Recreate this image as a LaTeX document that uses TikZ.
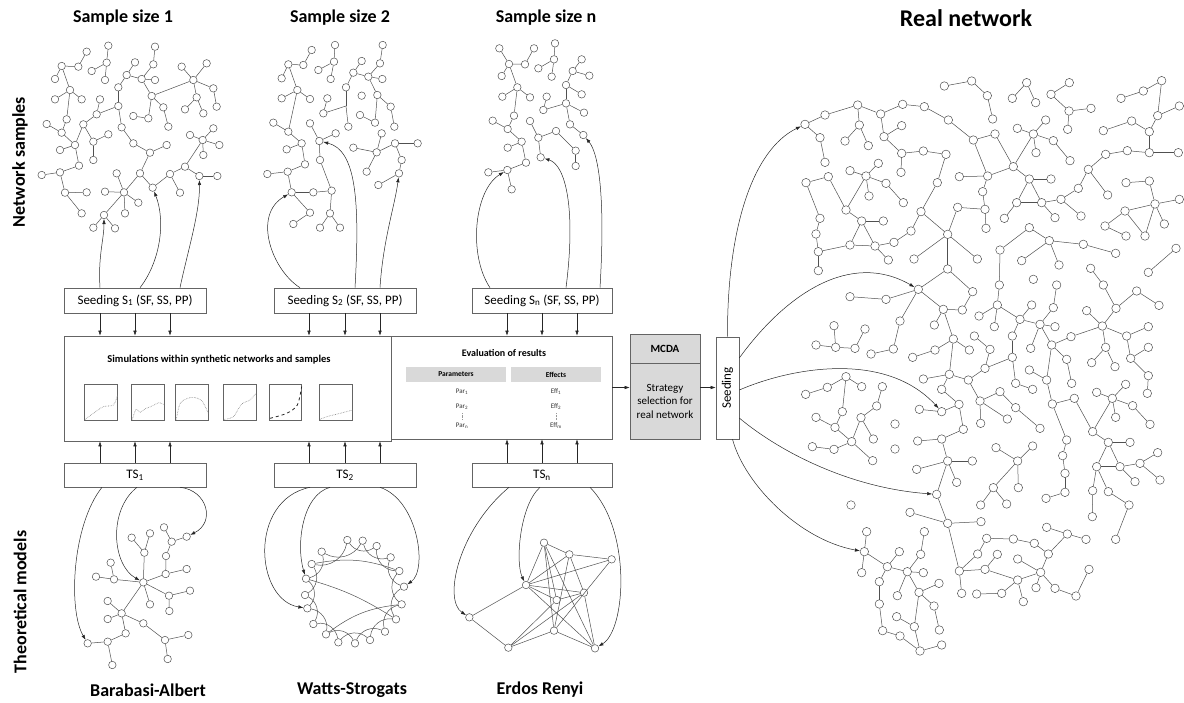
\documentclass[tikz,border=0pt]{standalone}
\usepackage{fontspec}
\setmainfont{Carlito}
\usetikzlibrary{arrows.meta}
\definecolor{lc}{RGB}{80,80,80}
\definecolor{bc}{RGB}{100,100,100}
\definecolor{hg}{RGB}{217,217,217}
\begin{document}
\begin{tikzpicture}[x=1pt,y=-1pt,
  nd/.style={circle,draw=lc,fill=white,inner sep=0pt,minimum size=7.5pt,line width=0.5pt},
  rn/.style={nd,minimum size=8.5pt},
  ed/.style={draw=lc,line width=0.5pt},
  bx/.style={draw=bc,line width=0.6pt,fill=white,inner sep=0pt,font=\fontsize{13}{15}\selectfont},
  arr/.style={draw=black!85,line width=0.5pt,-{Latex[length=5pt,width=3.5pt]}},
  ttl/.style={font=\fontsize{18}{20}\selectfont\bfseries},
  cv/.style={draw=black!50,densely dotted,line width=0.6pt},
  sm/.style={font=\fontsize{7}{8}\selectfont,text=black!80},
]
\useasboundingbox (0,0) rectangle (1184,702);

% ---------- titles ----------
\node[ttl] (h1) at (123,18) {Sample size 1};
\node[ttl] (h2) at (340,18) {Sample size 2};
\node[ttl] (hn) at (546,18) {Sample size n};
\node[font=\fontsize{24}{26}\selectfont\bfseries] (hr) at (966,18) {Real network};
\node[ttl,rotate=90] (vl1) at (20,162) {Network samples};
\node[ttl,rotate=90] (vl2) at (20,602) {Theoretical models};
\node[ttl] (b1) at (148,690) {Barabasi-Albert};
\node[ttl] (b2) at (352,690) {Watts-Strogats};
\node[ttl] (b3) at (540,690) {Erdos Renyi};

% ---------- boxes ----------
\node[bx,minimum width=142pt,minimum height=25pt] (ss1) at (135,300.5) {Seeding S\textsubscript{1} (SF, SS, PP)};
\node[bx,minimum width=142pt,minimum height=25pt] (ss2) at (345,300.5) {Seeding S\textsubscript{2} (SF, SS, PP)};
\node[bx,minimum width=140pt,minimum height=25pt] (ssn) at (542,300.5) {Seeding S\textsubscript{n} (SF, SS, PP)};
\node[bx,minimum width=142pt,minimum height=24pt] (ts1) at (135,475) {TS\textsubscript{1}};
\node[bx,minimum width=142pt,minimum height=24pt] (ts2) at (345,475) {TS\textsubscript{2}};
\node[bx,minimum width=140pt,minimum height=24pt] (tsn) at (542,475) {TS\textsubscript{n}};
\node[bx,minimum width=221pt,minimum height=103pt] (eval) at (501.5,387.5) {};
\node[bx,minimum width=327pt,minimum height=105pt] (sim) at (227.5,388.5) {};
\node[font=\fontsize{10.5}{12}\selectfont\bfseries] (simt) at (219,360) {Simulations within synthetic networks and samples};
\node[font=\fontsize{10}{12}\selectfont\bfseries] (evt) at (504,353) {Evaluation of results};
\node[fill=hg,minimum width=100pt,minimum height=15pt,inner sep=0pt,font=\fontsize{7.5}{9}\selectfont\bfseries] (parh) at (456,374.5) {Parameters};
\node[fill=hg,minimum width=90pt,minimum height=15pt,inner sep=0pt,font=\fontsize{7.5}{9}\selectfont\bfseries] (effh) at (556,374.5) {Effects};
\node[sm] (p1) at (462,392) {Par\textsubscript{1}};
\node[sm] (p2) at (462,407) {Par\textsubscript{2}};
\node[sm] (pn) at (462,426) {Par\textsubscript{n}};
\node[sm] (e1) at (556,392) {Eff\textsubscript{1}};
\node[sm] (e2) at (556,407) {Eff\textsubscript{2}};
\node[sm] (en) at (556,426) {Eff\textsubscript{m}};
\draw[black!40,densely dotted] (p2.south) -- (pn.north);
\draw[black!40,densely dotted] (e2.south) -- (en.north);

\node[bx,fill=hg,minimum width=70pt,minimum height=29pt,font=\fontsize{11}{13}\selectfont\bfseries] (mcdah) at (665,348.5) {MCDA};
\node[bx,fill=hg,minimum width=70pt,minimum height=76pt,align=center,font=\fontsize{11}{13.5}\selectfont] (mcdab) at (665,401) {Strategy\\selection for\\real network};
\node[bx,minimum width=23pt,minimum height=102pt] (seed) at (727.5,388) {};
\node[rotate=90,font=\fontsize{13}{15}\selectfont] (seedt) at (seed.center) {Seeding};

% ---------- charts ----------
\begin{scope}[shift={(60pt,-360pt)},x=0.33333pt,y=-0.33333pt]
\foreach \a/\b in {72/173,215/313,347/445,490/588,628/725,778/878}
  \draw[bc,line width=0.6pt] (\a,72) rectangle (\b,180);
\draw[cv] plot[smooth] coordinates {(75,178) (100,160) (130,140) (160,135) (173,105)};
\draw[cv] plot[smooth] coordinates {(217,178) (228,148) (240,157) (256,146) (272,140) (298,128) (313,135)};
\draw[cv] plot[smooth] coordinates {(349,178) (362,128) (395,112) (425,122) (445,160)};
\draw[cv] plot[smooth] coordinates {(492,178) (520,170) (545,132) (570,120) (588,100)};
\draw[black!85,dashed,line width=0.8pt] plot[smooth] coordinates {(630,175) (680,160) (712,135) (725,80)};
\draw[cv] plot[smooth] coordinates {(780,178) (800,170) (840,160) (878,150)};
\end{scope}

% ---------- straight arrows ----------
\foreach \s/\t in {-35/-127.5,0/-92.5,35/-57.5} {
  \draw[arr] ([xshift=\s pt]ss1.south) -- ([xshift=\t pt]sim.north);
  \draw[arr] ([xshift=\s pt]ts1.north) -- ([xshift=\t pt]sim.south);}
\foreach \s/\t in {-36/81.5,0/117.5,35/152.5} {
  \draw[arr] ([xshift=\s pt]ss2.south) -- ([xshift=\t pt]sim.north);
  \draw[arr] ([xshift=\s pt]ts2.north) -- ([xshift=\t pt]sim.south);}
\foreach \s/\t in {-35/5.5,0/40.5,35/75.5} {
  \draw[arr] ([xshift=\s pt]ssn.south) -- ([xshift=\t pt]eval.north);
  \draw[arr] ([xshift=\s pt]tsn.north) -- ([xshift=\t pt]eval.south);}
\draw[arr] (eval.east) -- (eval.east -| mcdab.west);
\draw[arr] (eval.east -| mcdab.east) -- (eval.east -| seed.west);

% ---------- sample 1 ----------
\begin{scope}[x=0.33333pt,y=-0.33333pt]
\foreach \n/\x/\y in {1/325/137,2/260/155,3/465/140,4/185/198,5/235/200,6/320/188,7/275/213,8/460/193,9/405/187,10/545/200,11/620/190,12/165/237,13/315/240,14/380/225,15/425/237,16/465/240,17/580/240,18/355/262,19/210/270,20/640/265,21/455/288,23/165/298,24/245/298,25/590/292,26/300/298,27/355/318,28/650/320,29/490/322,30/555/328,31/290/343,32/400/348,33/445/355,34/610/340,35/200/358,36/140/372,37/250/373,38/505/380,39/365/382,40/185/398,41/325/403,42/280/425,43/400/430,44/570/405,45/608/420,46/640/385,47/225/435,48/500/435,49/658/435,50/180/450,51/450/458,52/610/465,53/280/480,54/237/497,55/555/500,56/125/525,57/180/517,58/420/520,59/510/522,60/598/528,61/652/528,62/350/520,63/458/563,64/195/578,65/260/577,66/315/575,67/372/577,68/540/578,69/415/608,70/375/640,71/245/640,72/312/645,73/280/683,74/345/685}
  \node[nd] (c\n) at (\x,\y) {};
\end{scope}
\foreach \a/\b in {1/6,6/7,6/13,2/5,5/4,4/12,4/19,19/23,19/24,19/35,35/40,40/36,40/47,47/37,37/31,31/26,31/27,37/42,42/41,42/53,47/50,47/54,54/57,57/56,57/64,64/65,64/71,27/18,18/14,14/9,14/15,15/8,8/3,15/16,15/21,21/17,21/33,33/32,21/29,29/38,17/10,17/11,17/20,17/25,25/30,25/34,20/28,27/39,39/43,43/51,51/48,51/58,58/63,63/59,59/68,59/55,55/60,60/61,55/45,45/44,45/46,45/49,45/52,58/67,67/62,67/66,67/69,67/70,67/72,72/73,72/74}
  \draw[ed] (c\a) -- (c\b);

% ---------- sample 2 ----------
\begin{scope}[shift={(240pt,0pt)},x=0.33333pt,y=-0.33333pt]
\foreach \n/\x/\y in {1/285/135,2/428/135,3/215/150,4/282/185,5/420/190,6/145/193,7/190/195,8/235/210,9/365/183,10/340/218,11/385/230,12/272/237,13/427/237,14/125/235,15/172/270,16/318/262,17/125/295,18/210/297,19/262/295,20/365/287,21/412/285,22/250/340,23/452/320,25/360/345,26/405/368,27/325/380,28/463/380,29/100/368,30/145/395,31/210/370,32/287/400,33/238/423,34/425/400,35/185/430,36/340/443,37/410/457,38/465/430,39/533/430,40/140/448,41/240/480,42/485/480,43/195/493,44/380/515,45/82/522,46/143/515,47/477/520,48/155/577,49/220/577,50/275/572,51/415/555,52/210/638,53/270/640,54/160/672,55/240/683,56/300/683}
  \node[nd] (a\n) at (\x,\y) {};
\coordinate (a24) at (318,318);
\end{scope}
\foreach \a/\b in {1/4,4/8,4/12,3/7,7/6,6/14,6/15,15/17,15/18,15/30,30/29,30/35,35/40,35/43,43/46,46/45,46/48,48/49,49/50,50/41,41/33,33/31,33/32,50/53,53/55,53/56,48/52,52/54,2/5,5/11,11/10,10/9,10/16,11/13,11/21,21/23,23/28,21/26,26/25,37/36,37/34,37/44,37/38,38/39,38/42,42/47,47/51,16/24,24/22,22/19,24/27}
  \draw[ed] (a\a) -- (a\b);

% ---------- sample n ----------
\begin{scope}[shift={(430pt,0pt)},x=0.33333pt,y=-0.33333pt]
\foreach \n/\x/\y in {1/208/145,2/312/145,3/375/130,4/237/192,5/285/193,6/325/205,7/372/178,8/455/178,9/215/228,10/365/230,11/428/213,12/478/227,13/262/262,14/408/255,15/217/290,16/300/292,17/350/290,18/455/283,19/340/330,20/408/310,21/462/338,22/252/347,23/188/362,24/300/363,25/233/387,26/420/373,27/378/393,28/325/413,29/460/405,30/275/425,31/233/443,32/437/452,33/288/488,34/332/472,35/437/498,36/175/517,37/232/510,38/245/568}
  \node[nd] (b\n) at (\x,\y) {};
\end{scope}
\foreach \a/\b in {1/4,4/5,5/2,4/9,4/13,13/15,13/16,13/22,22/25,25/23,25/30,30/31,30/33,33/37,37/36,37/38,3/7,7/6,7/10,8/11,11/12,11/14,14/18,14/20,20/19,19/17,20/21,20/26,26/29,24/28,28/27,28/34,27/32,32/35}
  \draw[ed] (b\a) -- (b\b);

% ---------- Barabasi-Albert ----------
\begin{scope}[shift={(40pt,-470pt)},x=0.33333pt,y=-0.33333pt]
\foreach \n/\x/\y in {1/310/337,2/245/430,3/372/172,4/440/200,5/395/215,6/378/258,7/330/190,8/275/203,9/313/248,10/212/278,11/168/320,12/222/328,13/377/312,14/440/297,15/387/377,16/450/362,17/388/423,18/330/403,19/203/393,20/203/447,21/310/460,22/375/510,23/445/495,24/383/567,25/257/490,26/203/515,27/143/520,28/217/585}
  \node[nd] (ba\n) at (\x,\y) {};
\end{scope}
\foreach \a/\b in {1/9,9/7,9/8,1/12,12/11,12/10,1/13,13/14,13/6,6/5,5/3,5/4,1/15,15/16,15/17,1/18,1/2,2/19,2/20,2/21,21/22,22/23,22/24,2/25,25/26,26/27,26/28}
  \draw[ed] (ba\a) -- (ba\b);

% ---------- Watts-Strogatz ----------
\begin{scope}[shift={(250pt,-470pt)},x=0.33333pt,y=-0.33333pt]
\foreach \n/\x/\y in {1/292/210,2/338/212,3/380/228,4/422/262,5/448/303,6/462/350,7/455/403,8/438/448,9/405/485,10/360/510,11/315/520,12/265/517,13/228/493,14/190/462,15/172/415,16/165/375,17/168/326,18/185/282,19/215/245}
  \node[nd] (ws\n) at (\x,\y) {};
\end{scope}
\foreach \i in {1,...,19} {
  \pgfmathtruncatemacro{\j}{mod(\i+1,19)+1}
  \draw[ed] (ws\i) to[bend right=45] (ws\j);}
\draw[ed] (ws18) to[bend left=15] (ws5);
\draw[ed] (ws17) to[bend left=8] (ws8);
\draw[ed] (ws13) to[bend left=15] (ws7);

% ---------- Erdos Renyi ----------
\begin{scope}[shift={(430pt,-470pt)},x=0.33333pt,y=-0.33333pt]
\foreach \n/\x/\y in {A/342/218,B/418/253,C/545/268,D/288/345,E/380/390,F/462/368,G/118/442,H/372/482,I/235/533,J/495/535}
  \node[nd] (er\n) at (\x,\y) {};
\end{scope}
\foreach \a/\b in {A/B,A/D,A/E,A/H,A/J,B/C,B/D,B/F,B/H,C/D,C/H,D/F,D/E,D/J,D/G,E/F,E/I,F/J,F/I,G/I,I/H,H/J}
  \draw[ed] (er\a) -- (er\b);

% ---------- real network ----------
\begin{scope}[shift={(760pt,0pt)},x=0.33333pt,y=-0.33333pt]
\foreach \n/\x/\y in {1/553/258,2/635/243,3/682/287,4/698/357,5/800/248,6/757/295,7/827/308,8/928/248,9/873/283,10/927/333,11/993/325,12/923/388,13/1205/242,14/1150/273,15/1083/295,16/1258/318,17/1193/347,18/1115/363,19/1030/392,20/1168/395,21/1168/458,22/1255/458,23/1102/452,24/1037/463,25/985/508,26/1043/585,27/955/565,28/903/598,29/963/648,30/845/608,31/885/653,32/770/608,33/733/655,34/808/537,35/873/537,36/760/500,37/683/528,38/598/530,39/705/402,40/640/420,41/565/360,42/493/320,43/428/313,44/362/342,45/293/315,46/195/345,47/135/373,48/180/413,49/195/487,50/298/375,51/255/423,52/325/437,53/425/377,54/372/410,55/425/460,56/423/517,57/490/453,58/558/463,59/532/548,60/483/635,61/453/693,62/402/727,63/345/738,64/270/735,65/305/663,66/370/663,67/258/630,68/318/528,69/270/512,70/355/490,71/378/550,72/430/608,73/327/588,74/205/530,75/138/548,76/180/655,77/168/702,78/668/575,79/675/628,80/593/622,81/678/685,82/563/703,83/820/402,84/772/385,85/857/360,86/880/422,87/930/482,88/828/458,89/1098/548,90/1168/543,91/1185/612,92/1258/598,93/1095/633,94/1035/678,95/1098/708,96/1155/708,97/1213/672,98/808/683,99/868/722,100/970/733}
  \node[rn] (r\n) at (\x,\y) {};
\end{scope}
\begin{scope}[shift={(760pt,-230pt)},x=0.33333pt,y=-0.33333pt]
\foreach \n/\x/\y in {1/175/65,2/175/122,3/385/90,4/462/87,5/652/87,6/720/60,7/785/92,8/897/105,9/1067/70,10/1248/55,11/1165/127,12/563/117,13/475/178,14/270/200,15/378/208,16/638/185,17/550/238,18/607/240,19/523/285,20/420/273,21/718/165,22/820/148,23/890/165,24/992/115,25/1030/165,26/1130/183,27/1197/226,28/1068/235,29/980/242,30/712/225,31/657/258,32/703/290,33/815/225,34/880/233,35/780/268,36/840/283,37/885/290,38/1027/288,39/1165/290,40/933/320,41/1100/318,42/222/287,43/315/297,44/168/345,45/227/352,46/285/355,47/333/372,48/400/357,49/580/327,50/458/382,51/525/360,52/628/360,53/643/318,54/690/358,55/757/318,56/812/355,57/875/345,58/757/382,59/1165/352,60/1037/352,61/995/398,62/1065/410,63/1112/385,64/920/388,65/675/415,66/568/433,67/490/447,68/545/478,69/625/450,70/808/420,71/860/450,72/935/460,73/767/460,74/818/478,75/1165/437,76/1162/490,77/1097/463,78/1010/487,79/1057/505,80/1118/527,81/1067/562,82/1170/583,83/258/440,84/202/472,85/137/493,86/305/470,87/367/470,88/350/528,89/247/545,90/303/563,91/168/562,92/225/592,93/275/635,94/405/582,95/340/627,96/157/650,97/222/658,98/405/657,99/338/692,100/478/538,101/545/545,102/597/523,103/720/485,104/660/513,105/767/533,106/662/580,107/742/567,108/840/595,109/877/522,110/943/505,111/998/605,112/1045/637,113/1110/637,114/1193/668,115/1140/700,116/920/630,117/908/677,118/610/598,119/545/627,120/473/633,121/563/693,122/637/693,123/708/653,124/773/693,125/818/648,126/1010/710,127/1080/710}
  \node[rn] (s\n) at (\x,\y) {};
\end{scope}
\begin{scope}[shift={(760pt,-450pt)},x=0.33333pt,y=-0.33333pt]
\foreach \n/\x/\y in {1/470/58,2/590/97,3/530/133,4/450/187,5/563/220,6/663/215,7/700/113,8/775/113,9/662/165,10/740/162,11/915/70,12/915/127,13/858/145,14/998/122,15/1045/125,16/1107/165,17/997/200,18/1067/268,19/1125/95,20/1200/90,21/273/165,22/320/245,23/313/305,24/305/368,25/418/305,26/382/350,27/493/245,28/482/313,29/442/365,30/490/368,31/358/395,32/412/437,33/477/427,34/537/400,35/358/462,36/522/468,37/410/500,38/463/530,39/538/540,40/368/542,41/420/558,42/480/603,43/545/585,44/598/363,45/605/430,46/653/312,47/675/358,48/712/313,49/680/265,50/760/267,51/823/280,52/865/312,53/860/232,54/922/252,55/978/268,57/842/367,58/773/327,59/773/390,60/828/413,61/790/455,62/725/430,63/650/432,64/885/415,65/948/438,66/987/358}
  \node[rn] (t\n) at (\x,\y) {};
\end{scope}
\foreach \a/\b in {1/2,2/3,3/4,5/6,5/7,8/9,9/10,10/11,10/12,13/14,14/15,13/17,17/16,17/20,20/18,18/19,20/21,21/22,21/23,23/24,24/25,25/26,25/27,27/28,28/29,28/30,30/31,30/32,32/33,34/30,34/32,34/35,36/34,36/37,36/39,36/83,39/40,40/37,40/41,41/42,42/43,43/44,44/45,45/46,46/47,47/48,48/49,45/50,50/51,50/52,44/54,54/53,54/55,55/56,55/57,57/58,58/59,59/60,60/61,61/62,62/63,60/82,37/38,37/78,78/79,79/80,79/81,80/82,83/84,83/85,83/86,86/87,83/88,68/69,68/70,68/71,71/72,68/73,68/67,67/74,74/75,75/76,76/77,67/65,65/66,65/64,65/63,64/63,89/90,90/91,91/92,91/93,93/94,94/95,93/96,91/96,91/97,98/99,99/100}
  \draw[ed] (r\a) -- (r\b);
\foreach \a/\b in {1/2,12/13,12/16,16/18,18/17,13/17,17/19,17/49,14/15,15/13,13/20,20/48,48/47,49/51,51/50,49/52,49/66,66/67,66/68,66/69,68/102,102/101,101/100,102/118,118/119,119/120,119/121,121/122,69/65,69/104,104/106,104/107,104/103,103/105,105/108,65/54,54/53,65/58,58/55,55/35,58/73,73/74,70/71,6/21,21/30,30/31,30/32,30/35,35/33,35/36,36/34,34/23,36/37,36/56,36/57,57/40,57/64,64/72,57/71,71/109,109/110,109/116,116/117,110/111,111/112,112/113,112/126,112/127,126/127,127/115,115/114,79/78,79/77,79/80,79/81,79/111,80/82,40/38,38/28,28/25,25/24,28/26,26/27,38/29,38/41,41/39,41/63,63/59,63/75,75/76,38/60,60/61,60/62,10/11,42/45,45/44,45/46,46/43,83/84,84/85,83/86,83/89,89/92,92/91,92/93,93/90,90/88,88/87,90/95,93/97,97/96,93/99,123/124,124/125}
  \draw[ed] (s\a) -- (s\b);
\foreach \a/\b in {3/5,5/4,5/6,5/44,44/45,44/46,44/47,46/49,49/50,50/51,51/52,52/54,54/53,54/55,52/57,57/58,57/59,57/60,57/64,64/65,65/66,47/48,47/59,59/61,59/62,62/63,7/9,7/10,11/12,12/13,14/17,15/16,16/18,22/23,23/24,23/26,26/25,26/29,29/28,28/27,29/30,29/32,29/33,33/34,33/36,36/39,33/38,38/37,38/42,42/41,41/40,40/35,35/31,31/26,42/43}
  \draw[ed] (t\a) -- (t\b);
\foreach \a/\b in {r77/s1,s1/r64,r63/s3,r82/s4,r82/s12,r82/s5,r98/s6,r99/s7,r99/s8,r100/s9,s121/t1,s121/t2,s121/t3,s124/t8,s124/t7,s117/t11,s126/t14,s126/t15,s127/t19,s115/t20}
  \draw[ed] (\a) -- (\b);

% ---------- curved arrows: seeding to samples ----------
\draw[arr] ([xshift=-35pt]ss1.north) .. controls (98,255) and (104,240) .. (c72);
\draw[arr] ([xshift=5pt]ss1.north) .. controls (160,262) and (166,222) .. (c63);
\draw[arr] ([xshift=45pt]ss1.north) .. controls (188,250) and (200,212) .. (c60);
\draw[arr] ([xshift=-45pt]ss2.north) .. controls (272,270) and (252,215) .. (a48);
\draw[arr] ([xshift=10pt]ss2.north) .. controls (360,200) and (356,150) .. (a33);
\draw[arr] ([xshift=35pt]ss2.north) .. controls (383,240) and (395,205) .. (a47);
\draw[arr] ([xshift=-52pt]ssn.north) .. controls (468,255) and (474,190) .. (b37);
\draw[arr] ([xshift=24pt]ssn.north) .. controls (576,210) and (566,165) .. (b34);
\draw[arr] ([xshift=58pt]ssn.north) .. controls (605,205) and (600,155) .. (b29);

% ---------- curved arrows: TS to models ----------
\draw[arr] ([xshift=-33pt]ts1.south) .. controls (72,525) and (68,610) .. (ba27);
\draw[arr] ([xshift=2pt]ts1.south) .. controls (108,510) and (112,565) .. (ba1);
\draw[arr] ([xshift=45pt]ts1.south) .. controls (207,490) and (216,522) .. (ba4);
\draw[arr] ([xshift=-35pt]ts2.south) .. controls (248,500) and (255,600) .. (ws15);
\draw[arr] ([xshift=-15pt]ts2.south) .. controls (302,495) and (296,545) .. (ws17);
\draw[arr] ([xshift=35pt]ts2.south) .. controls (418,500) and (428,570) .. (ws6);
\draw[arr] ([xshift=-33pt]tsn.south) .. controls (458,530) and (443,600) .. (erG);
\draw[arr] ([xshift=-2pt]tsn.south) .. controls (520,505) and (515,562) .. (erD);
\draw[arr] ([xshift=48pt]tsn.south) .. controls (632,530) and (626,630) .. (erJ);

% ---------- curved arrows: seeding to real network ----------
\draw[arr] (seed.north) .. controls (727,230) and (752,150) .. (r47);
\draw[arr] ([yshift=30pt]seed.east) .. controls (785,295) and (850,250) .. (s13);
\draw[arr] ([yshift=-2pt]seed.east) .. controls (790,368) and (885,350) .. (s101);
\draw[arr] ([yshift=-30pt]seed.east) .. controls (780,452) and (850,488) .. (t3);
\draw[arr] ([xshift=5pt]seed.south) .. controls (745,485) and (800,540) .. (t23);
\end{tikzpicture}
\end{document}
